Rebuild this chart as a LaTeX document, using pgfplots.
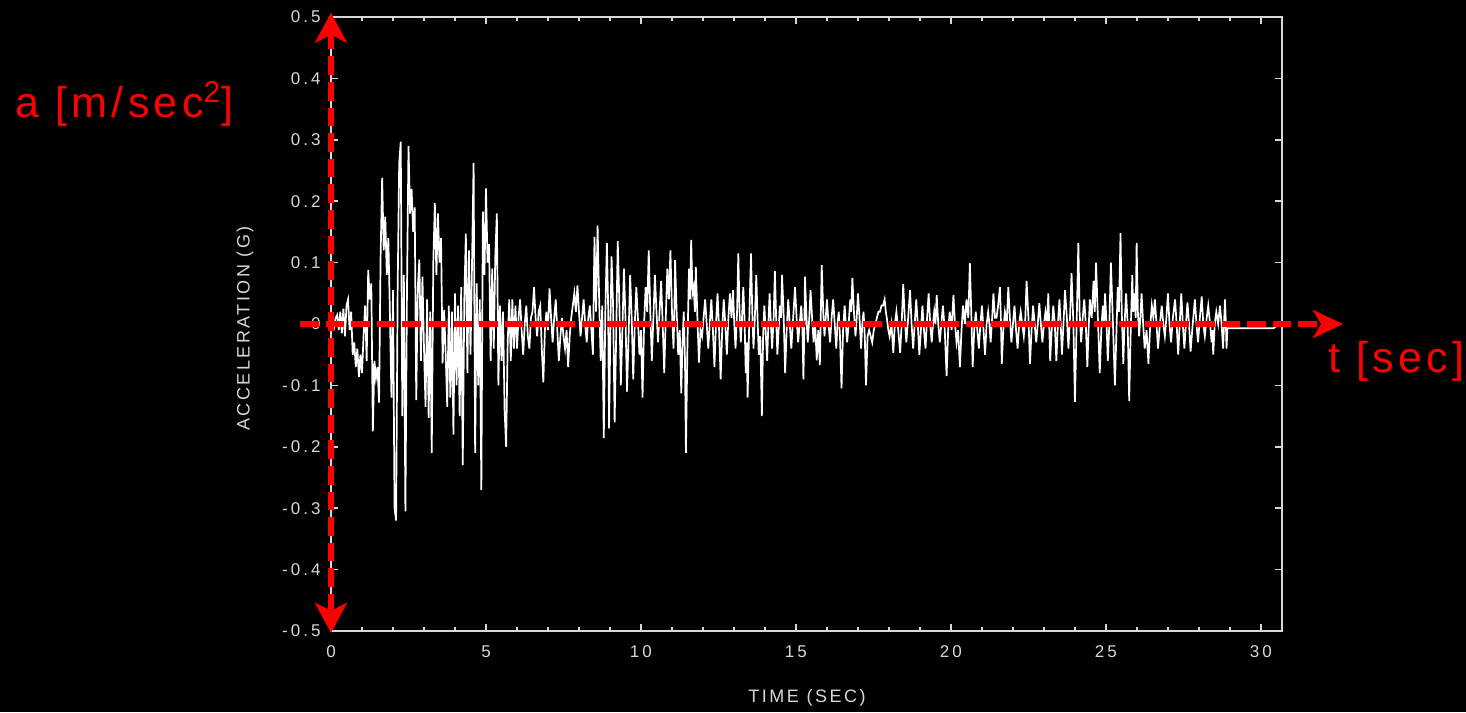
\documentclass[border=0pt]{standalone}
\usepackage{fontspec}
\usepackage{pgfplots}
\pgfplotsset{compat=1.18}
\usetikzlibrary{arrows.meta}
\setmainfont{Liberation Sans}
\newfontfamily\tickfamily[LetterSpace=18]{Liberation Sans}
\newfontfamily\labfamily[LetterSpace=14]{Liberation Sans}
\newfontfamily\redfamily[LetterSpace=10]{Liberation Sans}
\newcommand\tickfont{\tickfamily\fontsize{8.5}{10}\selectfont}
\newcommand\labfont{\labfamily\fontsize{9}{11}\selectfont}
\newcommand\redfont{\redfamily\fontsize{21.5}{24}\selectfont}
\definecolor{axgray}{RGB}{215,215,215}
\definecolor{myred}{RGB}{255,0,0}
\begin{document}
\begin{tikzpicture}
\useasboundingbox (0,0) rectangle (733pt,356pt);
\fill[black] (0,0) rectangle (733pt,356pt);
\begin{axis}[
 at={(165.5pt,40.5pt)}, anchor=south west,
 width=475.5pt, height=307pt, scale only axis,
 xmin=0, xmax=30.68, ymin=-0.5, ymax=0.5,
 axis line style={draw=axgray, line width=1pt},
 xtick={0,5,10,15,20,25,30}, xticklabels={0,5,10,15,20,25,30},
 minor x tick num=4,
 ytick={-0.5,-0.4,-0.3,-0.2,-0.1,0,0.1,0.2,0.3,0.4,0.5},
 yticklabels={-0.5,-0.4,-0.3,-0.2,-0.1,0,0.1,0.2,0.3,0.4,0.5},
 tick style={draw=axgray, line width=0.8pt},
 major tick length=3.5pt, minor tick length=2pt,
 tick align=inside,
 ticklabel style={font=\tickfont, text=axgray},
 xticklabel style={yshift=-3.7pt},
 yticklabel style={xshift=-1.7pt},
 clip=false,
]
\addplot[white, line width=0.85pt] coordinates {
(0.00,0.000) (0.05,0.005) (0.10,-0.005) (0.15,0.010) (0.20,0.015) (0.25,-0.010) (0.30,0.020) (0.35,-0.015) (0.40,0.025) (0.45,-0.020)
(0.50,0.030) (0.55,0.040) (0.60,-0.010) (0.65,0.020) (0.70,-0.050) (0.75,-0.030) (0.80,-0.070) (0.85,-0.040) (0.90,-0.086) (0.95,-0.050)
(1.00,-0.080) (1.05,-0.020) (1.10,0.030) (1.15,-0.060) (1.20,0.088) (1.25,0.040) (1.30,0.066) (1.35,-0.175) (1.40,-0.060) (1.45,-0.088)
(1.50,-0.070) (1.55,-0.128) (1.60,0.110) (1.65,0.238) (1.70,0.120) (1.75,0.175) (1.80,0.080) (1.85,0.140) (1.90,0.017) (1.95,-0.120)
(2.00,0.055) (2.05,-0.300) (2.10,-0.320) (2.15,0.055) (2.20,0.262) (2.25,0.297) (2.30,-0.150) (2.35,0.080) (2.40,-0.305) (2.45,0.050)
(2.50,0.290) (2.55,0.180) (2.60,0.220) (2.65,0.150) (2.70,0.190) (2.75,-0.124) (2.80,0.060) (2.85,0.105) (2.90,-0.060) (2.95,0.077)
(3.00,-0.040) (3.05,-0.135) (3.10,0.040) (3.15,-0.153) (3.20,0.020) (3.25,-0.210) (3.30,0.100) (3.35,0.197) (3.40,0.080) (3.45,0.180)
(3.50,0.100) (3.55,0.140) (3.60,-0.064) (3.65,0.023) (3.70,-0.050) (3.75,-0.135) (3.80,0.030) (3.85,-0.120) (3.90,0.020) (3.95,-0.180)
(4.00,0.050) (4.05,-0.100) (4.10,0.030) (4.15,-0.150) (4.20,0.060) (4.25,-0.230) (4.30,0.040) (4.35,0.147) (4.40,-0.080) (4.45,0.120)
(4.50,-0.050) (4.55,0.100) (4.60,0.262) (4.65,-0.210) (4.70,0.066) (4.75,-0.100) (4.80,0.040) (4.85,-0.270) (4.90,0.183) (4.95,0.080)
(5.00,0.221) (5.05,0.100) (5.10,0.130) (5.15,-0.060) (5.20,0.090) (5.25,-0.040) (5.30,0.110) (5.35,0.180) (5.40,-0.100) (5.45,0.030)
(5.50,-0.060) (5.55,0.020) (5.60,-0.140) (5.65,-0.200) (5.70,-0.030) (5.75,0.040) (5.80,-0.060) (5.85,0.040) (5.90,-0.040) (5.95,0.030)
(6.00,-0.040) (6.05,0.010) (6.10,0.040) (6.15,-0.010) (6.20,-0.050) (6.25,0.000) (6.30,0.030) (6.35,-0.020) (6.40,-0.040) (6.45,0.010)
(6.50,0.020) (6.55,0.060) (6.60,0.010) (6.65,-0.020) (6.70,0.020) (6.75,0.030) (6.80,-0.040) (6.85,-0.095) (6.90,-0.010) (6.95,0.020)
(7.00,-0.010) (7.05,0.058) (7.10,0.010) (7.15,-0.030) (7.20,0.010) (7.25,0.040) (7.30,-0.010) (7.35,-0.060) (7.40,-0.020) (7.45,0.010)
(7.50,-0.020) (7.55,-0.040) (7.60,-0.010) (7.65,-0.070) (7.70,-0.020) (7.75,0.010) (7.80,0.030) (7.85,0.050) (7.90,0.020) (7.95,0.063)
(8.00,0.020) (8.05,-0.020) (8.10,0.010) (8.15,0.040) (8.20,0.000) (8.25,-0.030) (8.30,0.010) (8.35,0.030) (8.40,-0.010) (8.45,-0.050)
(8.50,0.142) (8.55,0.020) (8.60,0.160) (8.65,0.040) (8.70,-0.060) (8.75,0.030) (8.80,-0.186) (8.85,0.020) (8.90,0.132) (8.94,0.030)
(8.97,-0.170) (9.01,-0.020) (9.05,0.110) (9.10,0.030) (9.15,-0.160) (9.20,-0.020) (9.25,0.135) (9.30,0.040) (9.35,-0.100) (9.40,-0.010)
(9.45,0.090) (9.50,0.010) (9.55,-0.110) (9.60,-0.020) (9.65,0.080) (9.70,0.010) (9.75,-0.090) (9.80,0.000) (9.85,0.060) (9.90,0.010)
(9.95,-0.050) (10.00,-0.010) (10.05,-0.120) (10.10,0.000) (10.15,0.060) (10.20,0.020) (10.25,0.120) (10.30,0.020) (10.35,-0.060) (10.40,0.010)
(10.45,0.080) (10.50,0.020) (10.55,-0.030) (10.60,0.020) (10.65,0.070) (10.70,0.000) (10.75,-0.080) (10.80,0.010) (10.85,0.090) (10.90,0.040)
(10.95,0.120) (11.00,0.020) (11.05,-0.040) (11.08,0.030) (11.10,0.104) (11.15,0.020) (11.20,-0.050) (11.25,-0.010) (11.30,-0.113) (11.34,-0.030)
(11.38,0.020) (11.42,-0.060) (11.45,-0.210) (11.50,-0.030) (11.55,0.090) (11.58,0.040) (11.62,0.137) (11.66,0.050) (11.70,0.060) (11.74,0.020)
(11.77,0.093) (11.82,0.010) (11.87,-0.063) (11.92,-0.010) (11.97,-0.020) (12.02,0.010) (12.07,0.040) (12.12,0.000) (12.17,-0.040) (12.22,0.000)
(12.27,0.040) (12.32,-0.010) (12.37,-0.070) (12.42,0.000) (12.47,0.050) (12.52,-0.010) (12.57,-0.090) (12.62,-0.010) (12.67,0.040) (12.72,0.000)
(12.77,-0.050) (12.82,0.010) (12.87,0.050) (12.92,0.010) (12.97,0.055) (13.01,0.000) (13.05,-0.040) (13.10,0.020) (13.14,0.115) (13.18,0.020)
(13.22,-0.030) (13.26,0.010) (13.30,0.060) (13.34,0.010) (13.38,-0.080) (13.41,-0.030) (13.44,-0.120) (13.50,0.020) (13.55,0.115) (13.59,0.020)
(13.63,-0.040) (13.68,0.020) (13.72,0.080) (13.76,0.010) (13.80,-0.050) (13.85,-0.020) (13.90,-0.150) (13.94,-0.020) (13.98,0.030) (14.02,-0.010)
(14.07,-0.060) (14.11,0.000) (14.15,0.050) (14.19,0.000) (14.23,-0.040) (14.28,0.010) (14.32,0.086) (14.36,0.010) (14.40,-0.050) (14.44,-0.010)
(14.48,0.030) (14.52,0.010) (14.55,0.080) (14.60,0.020) (14.65,-0.080) (14.70,-0.010) (14.75,0.040) (14.80,0.000) (14.85,-0.040) (14.91,0.010)
(14.97,0.060) (15.02,0.010) (15.07,-0.030) (15.12,0.000) (15.17,0.030) (15.21,-0.010) (15.24,-0.090) (15.27,-0.010) (15.29,0.077) (15.34,0.010)
(15.38,-0.030) (15.43,0.010) (15.47,0.055) (15.52,0.010) (15.57,-0.030) (15.62,0.000) (15.67,-0.059) (15.72,-0.010) (15.77,-0.067) (15.80,0.010)
(15.83,0.096) (15.88,0.020) (15.92,-0.020) (15.96,0.010) (16.00,0.040) (16.05,0.000) (16.10,-0.030) (16.15,0.010) (16.20,0.040) (16.25,0.000)
(16.30,-0.040) (16.34,0.000) (16.38,0.020) (16.42,-0.020) (16.47,-0.105) (16.52,-0.010) (16.57,0.030) (16.61,0.000) (16.65,-0.030) (16.70,0.000)
(16.75,0.040) (16.78,0.020) (16.82,0.075) (16.87,0.020) (16.92,-0.020) (16.96,0.010) (17.00,0.050) (17.05,0.010) (17.10,-0.040) (17.14,0.000)
(17.18,0.020) (17.22,-0.020) (17.26,-0.100) (17.31,-0.020) (17.36,-0.010) (17.41,-0.020) (17.46,-0.030) (17.51,-0.010) (17.56,0.000) (17.61,0.010)
(17.66,0.020) (17.71,0.020) (17.76,0.030) (17.81,0.030) (17.86,0.040) (17.90,0.020) (17.93,0.010) (17.98,-0.010) (18.02,-0.020) (18.08,0.000)
(18.14,-0.047) (18.19,0.000) (18.24,0.020) (18.30,-0.010) (18.36,-0.047) (18.41,0.000) (18.46,0.065) (18.51,0.010) (18.56,-0.030) (18.62,0.010)
(18.68,0.055) (18.73,0.000) (18.78,-0.040) (18.83,0.000) (18.88,0.040) (18.93,0.000) (18.98,-0.050) (19.03,-0.010) (19.08,0.030) (19.13,-0.010)
(19.18,-0.040) (19.23,0.010) (19.28,0.050) (19.33,0.000) (19.38,-0.030) (19.42,0.000) (19.46,0.020) (19.50,0.000) (19.54,0.047) (19.59,0.000)
(19.64,-0.030) (19.69,0.000) (19.74,0.030) (19.80,-0.010) (19.86,-0.085) (19.91,-0.010) (19.96,0.020) (20.02,-0.010) (20.08,0.047) (20.13,0.000)
(20.18,-0.030) (20.23,-0.010) (20.29,-0.070) (20.34,-0.010) (20.39,0.030) (20.45,0.000) (20.50,0.040) (20.56,0.010) (20.61,0.099) (20.66,0.010)
(20.70,-0.070) (20.75,-0.010) (20.80,0.020) (20.85,-0.010) (20.90,-0.040) (20.95,0.000) (21.00,0.030) (21.05,-0.010) (21.10,-0.050) (21.15,0.000)
(21.20,0.020) (21.24,0.000) (21.28,-0.030) (21.33,0.010) (21.37,0.050) (21.42,0.010) (21.47,0.010) (21.52,0.030) (21.58,0.060) (21.61,0.010)
(21.64,-0.065) (21.69,-0.010) (21.74,0.020) (21.80,0.000) (21.85,0.060) (21.90,0.010) (21.95,-0.030) (22.00,0.000) (22.05,0.030) (22.10,-0.010)
(22.15,-0.040) (22.20,0.000) (22.25,0.020) (22.30,0.000) (22.35,-0.020) (22.40,0.010) (22.44,0.070) (22.50,0.010) (22.55,-0.065) (22.60,-0.010)
(22.65,0.030) (22.70,0.000) (22.75,-0.030) (22.80,0.000) (22.85,0.034) (22.90,0.000) (22.95,-0.030) (23.00,0.000) (23.05,0.020) (23.10,0.000)
(23.14,0.050) (23.17,0.000) (23.20,-0.060) (23.25,-0.010) (23.30,0.030) (23.35,0.000) (23.40,-0.060) (23.45,0.000) (23.50,0.040) (23.54,0.000)
(23.58,-0.050) (23.63,0.000) (23.68,0.055) (23.74,0.010) (23.79,-0.040) (23.84,0.010) (23.89,0.083) (23.95,0.000) (24.00,-0.127) (24.05,-0.010)
(24.11,0.132) (24.15,0.020) (24.20,-0.030) (24.25,0.010) (24.30,0.040) (24.35,0.000) (24.40,-0.070) (24.44,-0.010) (24.48,0.040) (24.54,0.010)
(24.60,0.070) (24.64,0.020) (24.68,0.100) (24.74,0.010) (24.80,-0.080) (24.85,-0.010) (24.90,0.030) (24.94,0.000) (24.97,0.050) (25.02,0.000)
(25.06,-0.060) (25.11,0.000) (25.16,0.100) (25.22,0.010) (25.29,-0.100) (25.34,-0.010) (25.38,0.060) (25.42,0.020) (25.47,0.148) (25.51,0.020)
(25.56,-0.065) (25.60,0.000) (25.65,0.050) (25.70,0.000) (25.75,-0.125) (25.80,-0.010) (25.85,0.080) (25.88,0.020) (25.92,0.050) (25.96,0.010)
(25.99,0.132) (26.03,0.020) (26.07,-0.020) (26.11,0.010) (26.15,0.050) (26.20,0.000) (26.25,-0.040) (26.31,-0.010) (26.37,-0.065) (26.42,-0.010)
(26.48,0.030) (26.53,0.010) (26.58,0.040) (26.63,0.000) (26.68,-0.040) (26.74,0.000) (26.80,0.030) (26.85,0.000) (26.90,-0.020) (26.95,0.010)
(27.00,0.050) (27.05,0.000) (27.10,-0.030) (27.16,0.010) (27.23,0.040) (27.28,0.000) (27.33,-0.050) (27.38,0.000) (27.43,0.050) (27.48,0.000)
(27.53,-0.040) (27.58,0.000) (27.63,0.035) (27.68,0.000) (27.73,-0.045) (27.80,0.000) (27.87,0.040) (27.92,0.000) (27.97,-0.030) (28.03,0.010)
(28.09,0.045) (28.14,0.000) (28.19,-0.020) (28.25,0.010) (28.30,0.030) (28.36,0.000) (28.41,-0.030) (28.44,-0.010) (28.46,-0.050) (28.51,0.000)
(28.56,0.020) (28.62,0.000) (28.68,0.030) (28.73,0.000) (28.78,-0.040) (28.81,0.000) (28.84,0.040) (28.87,0.000) (28.89,-0.040) (28.92,-0.007)
(30.40,-0.007) (30.60,0.000) (30.68,0.000)
};
\draw[myred, line width=3pt, dash pattern=on 9.3pt off 3.5pt, -{Stealth[length=15pt, width=14pt, inset=4pt]}]
 (axis cs:-1.0,0) -- (axis cs:32.65,0);
\draw[myred, line width=3pt, dash pattern=on 9.3pt off 3.5pt, {Stealth[length=15pt, width=16pt, inset=4pt]}-{Stealth[length=15pt, width=16pt, inset=4pt]}]
 (axis cs:0,-0.503) -- (axis cs:0,0.507);
\end{axis}
\node[font=\labfont, text=axgray, rotate=90] at (122.5pt,191.75pt) {ACCELERATION (G)};
\node[font=\labfont, text=axgray] at (403.5pt,7pt) {TIME (SEC)};
\node[anchor=base west, inner sep=0pt, text=myred, font=\redfont] at (7.5pt,297pt) {a [m/sec\textsuperscript{2}]};
\node[anchor=base west, inner sep=0pt, text=myred, font=\redfont] at (664pt,169.5pt) {t [sec]};
\end{tikzpicture}
\end{document}
